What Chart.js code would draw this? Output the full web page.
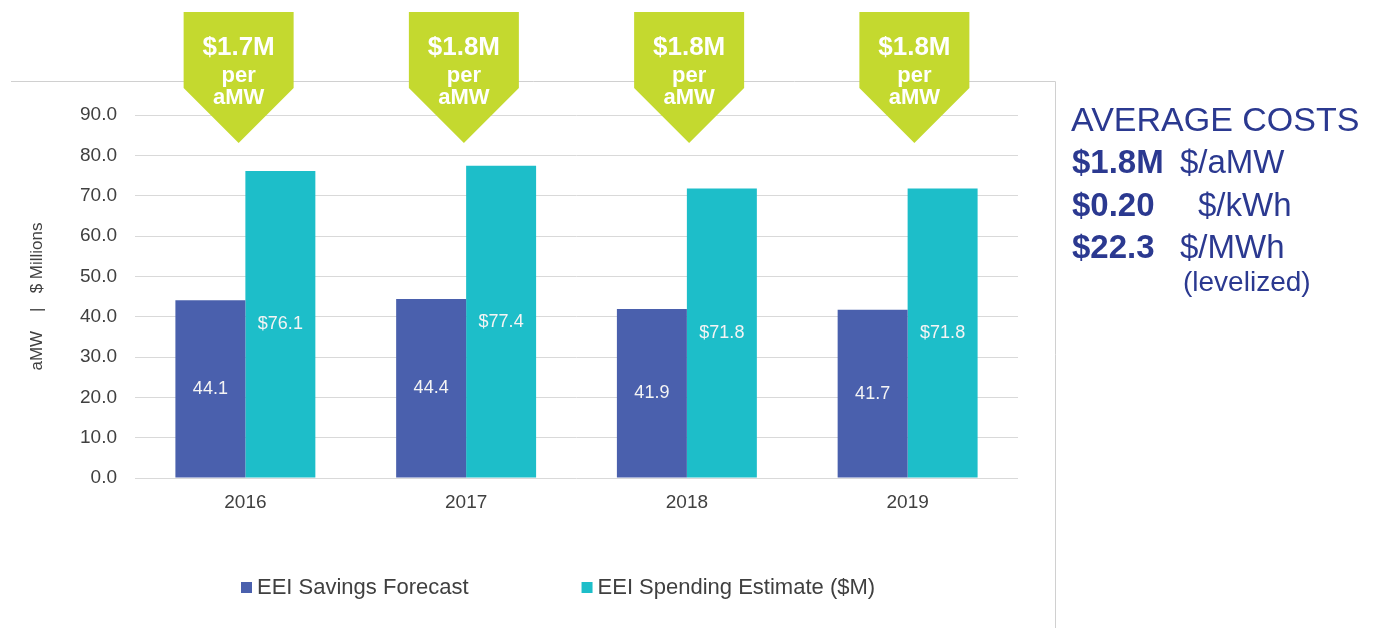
<!DOCTYPE html>
<html>
<head>
<meta charset="utf-8">
<title>EEI Savings and Spending</title>
<script src="https://cdn.jsdelivr.net/npm/chart.js@4.4.1/dist/chart.umd.min.js"></script>
<style>
  html, body { margin: 0; padding: 0; background: #ffffff; }
  #wrap { width: 1386px; height: 628px; position: relative; }
</style>
</head>
<body>
<div id="wrap"><canvas id="eeiChart" width="1386" height="628"></canvas></div>
<script>
// chart data
const years = ['2016', '2017', '2018', '2019'];
const savingsForecast = [44.1, 44.4, 41.9, 41.7];     // aMW
const spendingEstimate = [76.1, 77.4, 71.8, 71.8];    // $M
const costPerAmw = ['$1.7M', '$1.8M', '$1.8M', '$1.8M'];
const yTicks = [0, 10, 20, 30, 40, 50, 60, 70, 80, 90];

// side panel text
const panelTitle = 'AVERAGE COSTS';
const panelRows = [
  { value: '$1.8M', unit: '$/aMW', unitX: 1180 },
  { value: '$0.20', unit: '$/kWh', unitX: 1198 },
  { value: '$22.3', unit: '$/MWh', unitX: 1180 }
];
const panelNote = '(levelized)';

const COLORS = {
  savings: '#4a60ad',
  spending: '#1dbec9',
  banner: '#c4d92f',
  navy: '#2b3990',
  text: '#404040',
  grid: '#d9d9d9',
  frame: '#d0d0d0'
};
const FONT = '"Liberation Sans", Arial, sans-serif';

/**
 * Light frame around the chart box (top and right edges only)
 */
const framePlugin = {
  id: 'frame',
  beforeDraw(chart) {
    const ctx = chart.ctx;
    ctx.save();
    ctx.strokeStyle = COLORS.frame;
    ctx.lineWidth = 1;
    ctx.beginPath();
    ctx.moveTo(11, 81.5);
    ctx.lineTo(1055.5, 81.5);
    ctx.lineTo(1055.5, 628);
    ctx.stroke();
    ctx.restore();
  }
};

/**
 * Values written inside the bars
 */
const barLabelPlugin = {
  id: 'barLabels',
  afterDatasetsDraw(chart) {
    const ctx = chart.ctx;
    ctx.save();
    ctx.fillStyle = '#f4f4f4';
    ctx.font = '18px ' + FONT;
    ctx.textAlign = 'center';
    ctx.textBaseline = 'middle';
    chart.data.datasets.forEach((ds, i) => {
      chart.getDatasetMeta(i).data.forEach((bar, j) => {
        const v = ds.data[j];
        const txt = (i === 1 ? '$' : '') + v.toFixed(1);
        const mid = (bar.y + bar.base) / 2;
        ctx.fillText(txt, bar.x, mid);
      });
    });
    ctx.restore();
  }
};

/**
 * Green arrow banners above each year + custom legend + side panel
 */
const extrasPlugin = {
  id: 'extras',
  afterDraw(chart) {
    const ctx = chart.ctx;
    const xScale = chart.scales.x;
    ctx.save();

    // banners (slightly wider spread than the categories, as in the slide)
    costPerAmw.forEach((label, i) => {
      const cx = xScale.getPixelForValue(i) + (i - 1.5) * 4.5;
      ctx.fillStyle = COLORS.banner;
      ctx.beginPath();
      ctx.moveTo(cx - 55, 12);
      ctx.lineTo(cx + 55, 12);
      ctx.lineTo(cx + 55, 88);
      ctx.lineTo(cx, 143);
      ctx.lineTo(cx - 55, 88);
      ctx.closePath();
      ctx.fill();

      ctx.fillStyle = '#ffffff';
      ctx.textAlign = 'center';
      ctx.textBaseline = 'middle';
      ctx.font = 'bold 26px ' + FONT;
      ctx.fillText(label, cx, 48);
      ctx.font = 'bold 22px ' + FONT;
      ctx.fillText('per', cx, 76);
      ctx.fillText('aMW', cx, 98);
    });

    // legend
    ctx.font = '22px ' + FONT;
    ctx.textAlign = 'left';
    ctx.textBaseline = 'middle';
    let lx = 241;
    chart.data.datasets.forEach(ds => {
      ctx.fillStyle = ds.backgroundColor;
      ctx.fillRect(lx, 582, 11, 11);
      ctx.fillStyle = COLORS.text;
      ctx.fillText(ds.label, lx + 16, 588);
      lx += 16 + ctx.measureText(ds.label).width + 113;
    });

    // side panel
    ctx.fillStyle = COLORS.navy;
    ctx.font = '34px ' + FONT;
    ctx.fillText(panelTitle, 1071, 122);
    panelRows.forEach((row, i) => {
      const y = 164 + i * 42.5;
      ctx.font = 'bold 33px ' + FONT;
      ctx.fillText(row.value, 1072, y);
      ctx.font = '33px ' + FONT;
      ctx.fillText(row.unit, row.unitX, y);
    });
    ctx.font = '28px ' + FONT;
    ctx.fillText(panelNote, 1183, 283);

    ctx.restore();
  }
};

const ctx = document.getElementById('eeiChart');
new Chart(ctx, {
  type: 'bar',
  data: {
    labels: years,
    datasets: [
      {
        label: 'EEI Savings Forecast',
        data: savingsForecast,
        backgroundColor: COLORS.savings,
        categoryPercentage: 0.634,
        barPercentage: 1.0
      },
      {
        label: 'EEI Spending Estimate ($M)',
        data: spendingEstimate,
        backgroundColor: COLORS.spending,
        categoryPercentage: 0.634,
        barPercentage: 1.0
      }
    ]
  },
  options: {
    responsive: false,
    animation: false,
    layout: {
      padding: { top: 115, right: 368, bottom: 0, left: 0 }
    },
    plugins: {
      legend: { display: false },
      tooltip: { enabled: false }
    },
    scales: {
      x: {
        grid: { display: false },
        border: { display: false },
        ticks: {
          color: COLORS.text,
          font: { family: FONT, size: 19 },
          padding: 5
        },
        afterFit(scale) {
          scale.height = 150;
        }
      },
      y: {
        min: 0,
        max: 90,
        afterBuildTicks(scale) {
          scale.ticks = yTicks.map(v => ({ value: v }));
        },
        grid: { color: COLORS.grid, lineWidth: 1, drawTicks: false },
        border: { display: false },
        ticks: {
          color: COLORS.text,
          font: { family: FONT, size: 19 },
          padding: 18,
          callback: v => v.toFixed(1)
        },
        title: {
          display: true,
          text: 'aMW    |   $ Millions',
          color: COLORS.text,
          font: { family: FONT, size: 17 },
          padding: { top: 27, bottom: 0 }
        },
        afterFit(scale) {
          scale.width = 135;
        }
      }
    }
  },
  plugins: [framePlugin, barLabelPlugin, extrasPlugin]
});
</script>
</body>
</html>
